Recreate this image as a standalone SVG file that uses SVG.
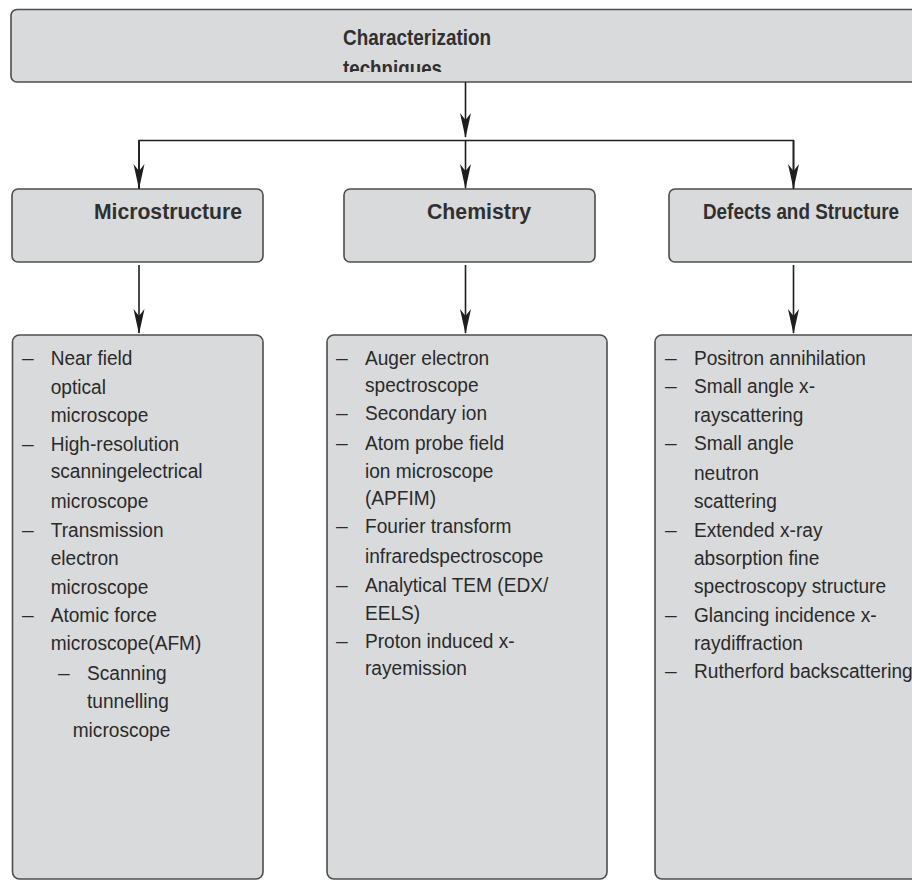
<svg xmlns="http://www.w3.org/2000/svg" width="912" height="881" viewBox="0 0 912 881">
<style>
.box{fill:#d9dadc;stroke:#4d4d4d;stroke-width:1.6}
.hd{font-family:"Liberation Sans",Arial,sans-serif;font-weight:bold;font-size:22px;fill:#303030}
.tx{font-family:"Liberation Sans",Arial,sans-serif;font-size:21px;fill:#2a2a2a}
.ln{fill:none;stroke:#1e1e1e;stroke-width:1.6}
</style>
<defs>
<marker id="ah" markerUnits="userSpaceOnUse" markerWidth="28" markerHeight="14" viewBox="-26 -7 28 14" refX="0" refY="0" orient="auto">
<path d="M1,0 L-24,-5.5 L-17,0 L-24,5.5 Z" fill="#1e1e1e"/>
</marker>
<clipPath id="clipTitle"><rect x="0" y="0" width="912" height="72"/></clipPath>
</defs>
<g id="node-top">
<rect class="box" x="11" y="9.5" width="930" height="72.5" rx="6"/>
<text class="hd" x="343" y="45" textLength="148" lengthAdjust="spacingAndGlyphs">Characterization</text>
<text class="hd" x="343" y="76" textLength="99" lengthAdjust="spacingAndGlyphs" clip-path="url(#clipTitle)">techniques</text>
</g>
<g id="node-microstructure">
<rect class="box" x="12" y="189" width="251" height="73" rx="6"/>
<text class="hd" x="94" y="219" textLength="148" lengthAdjust="spacingAndGlyphs">Microstructure</text>
</g>
<g id="node-chemistry">
<rect class="box" x="344" y="189" width="251" height="73" rx="6"/>
<text class="hd" x="427" y="219" textLength="104" lengthAdjust="spacingAndGlyphs">Chemistry</text>
</g>
<g id="node-defects">
<rect class="box" x="669" y="189" width="260" height="73" rx="6"/>
<text class="hd" x="703" y="219" textLength="196" lengthAdjust="spacingAndGlyphs">Defects and Structure</text>
</g>
<g id="list-microstructure">
<rect class="box" x="12.5" y="335" width="250.5" height="544" rx="7"/>
<g class="tx">
<text x="22" y="365">–</text>
<text x="22" y="451">–</text>
<text x="22" y="536.7">–</text>
<text x="22" y="621.7">–</text>
<text x="58" y="680">–</text>
</g>
<g class="tx" transform="translate(50.7,0) scale(0.91,1)">
<text x="0" y="365">Near field</text>
<text x="0" y="394">optical</text>
<text x="0" y="421.7">microscope</text>
<text x="0" y="451">High-resolution</text>
<text x="0" y="478.3">scanningelectrical</text>
<text x="0" y="508.3">microscope</text>
<text x="0" y="536.7">Transmission</text>
<text x="0" y="565">electron</text>
<text x="0" y="594.3">microscope</text>
<text x="0" y="621.7">Atomic force</text>
<text x="0" y="650">microscope(AFM)</text>
<text x="39.9" y="680">Scanning</text>
<text x="39.9" y="708.3">tunnelling</text>
<text x="24.2" y="736.7">microscope</text>
</g>
</g>
<g id="list-chemistry">
<rect class="box" x="327" y="335" width="280" height="544" rx="7"/>
<g class="tx">
<text x="336" y="365">–</text>
<text x="336" y="420">–</text>
<text x="336" y="450">–</text>
<text x="336" y="533">–</text>
<text x="336" y="592">–</text>
<text x="336" y="648">–</text>
</g>
<g class="tx" transform="translate(365,0) scale(0.91,1)">
<text x="0" y="365">Auger electron</text>
<text x="0" y="392">spectroscope</text>
<text x="0" y="420">Secondary ion</text>
<text x="0" y="450">Atom probe field</text>
<text x="0" y="478">ion microscope</text>
<text x="0" y="505">(APFIM)</text>
<text x="0" y="533">Fourier transform</text>
<text x="0" y="563">infraredspectroscope</text>
<text x="0" y="592">Analytical TEM (EDX/</text>
<text x="0" y="620">EELS)</text>
<text x="0" y="648">Proton induced x-</text>
<text x="0" y="675">rayemission</text>
</g>
</g>
<g id="list-defects">
<rect class="box" x="655" y="335" width="280" height="544" rx="7"/>
<g class="tx">
<text x="665" y="365">–</text>
<text x="665" y="393">–</text>
<text x="665" y="450">–</text>
<text x="665" y="537">–</text>
<text x="665" y="622">–</text>
<text x="665" y="678">–</text>
</g>
<g class="tx" transform="translate(694,0) scale(0.91,1)">
<text x="0" y="365">Positron annihilation</text>
<text x="0" y="393">Small angle x-</text>
<text x="0" y="422">rayscattering</text>
<text x="0" y="450">Small angle</text>
<text x="0" y="480">neutron</text>
<text x="0" y="508">scattering</text>
<text x="0" y="537">Extended x-ray</text>
<text x="0" y="565">absorption fine</text>
<text x="0" y="593">spectroscopy structure</text>
<text x="0" y="622">Glancing incidence x-</text>
<text x="0" y="650">raydiffraction</text>
<text x="0" y="678">Rutherford backscattering</text>
</g>
</g>
<g id="connectors">
<line class="ln" x1="465.5" y1="82" x2="465.5" y2="137" marker-end="url(#ah)"/>
<polyline class="ln" points="139,189 139,140.5 793.5,140.5 793.5,189"/>
<line class="ln" x1="465.5" y1="140.5" x2="465.5" y2="188" marker-end="url(#ah)"/>
<line class="ln" x1="139" y1="140.5" x2="139" y2="188" marker-end="url(#ah)"/>
<line class="ln" x1="793.5" y1="140.5" x2="793.5" y2="188" marker-end="url(#ah)"/>
<line class="ln" x1="139" y1="265" x2="139" y2="333" marker-end="url(#ah)"/>
<line class="ln" x1="465.5" y1="265" x2="465.5" y2="333" marker-end="url(#ah)"/>
<line class="ln" x1="793.5" y1="265" x2="793.5" y2="333" marker-end="url(#ah)"/>
</g>
</svg>
